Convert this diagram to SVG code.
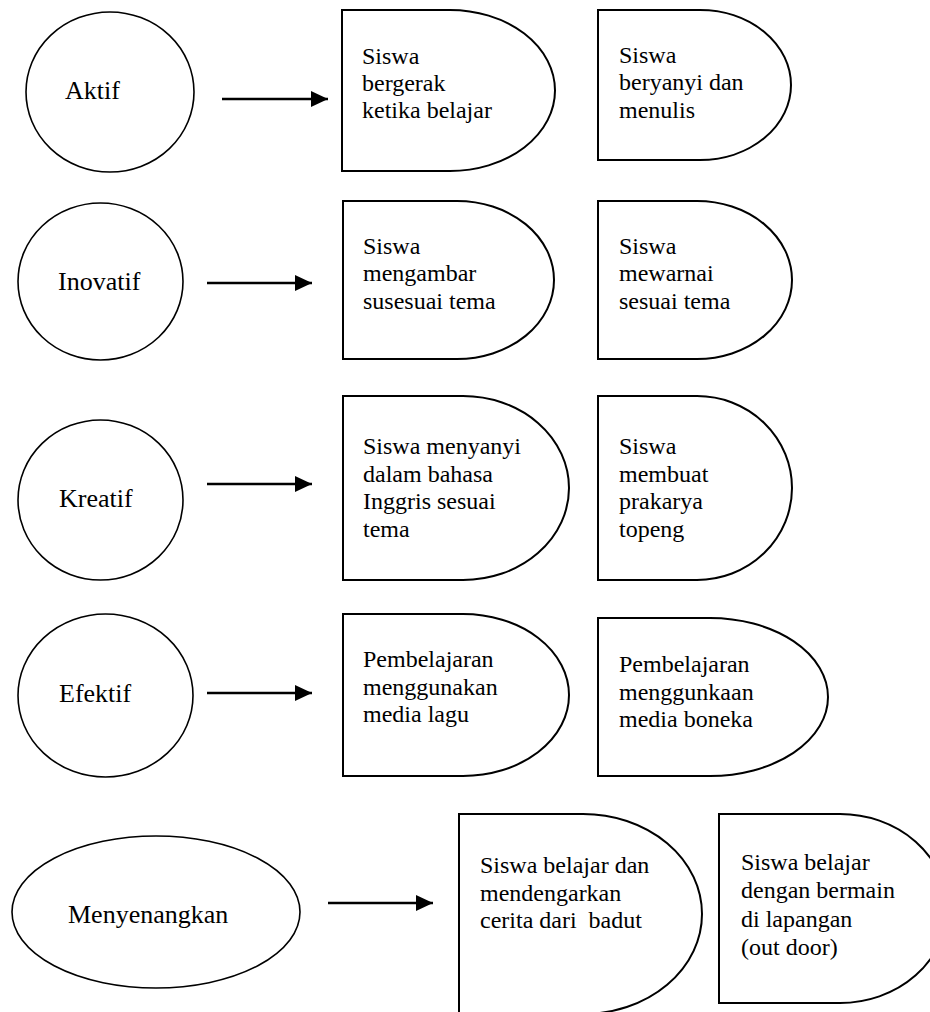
<svg xmlns="http://www.w3.org/2000/svg" width="930" height="1012" viewBox="0 0 930 1012">
  <style>
    .bg { fill: #ffffff; }
    .oval { fill: #ffffff; stroke: #000000; stroke-width: 1.6; }
    .box { fill: #ffffff; stroke: #000000; stroke-width: 2; stroke-linejoin: miter; }
    .lbl { font-family: "Liberation Serif", "Times New Roman", serif; font-size: 26px; fill: #000000; }
    .txt { font-family: "Liberation Serif", "Times New Roman", serif; font-size: 24px; fill: #000000; white-space: pre; }
    .arrow { stroke: #000000; stroke-width: 2.5; fill: none; marker-end: url(#ah); }
  </style>
  <defs>
    <marker id="ah" markerWidth="17" markerHeight="16" refX="17" refY="8" orient="auto" markerUnits="userSpaceOnUse">
      <path d="M0,0 L17,8 L0,16 Z" fill="#000000"/>
    </marker>
  </defs>
  <rect class="bg" x="0" y="0" width="930" height="1012"/>

  <g id="connectors">
    <line class="arrow" x1="222" y1="99" x2="328" y2="99"/>
    <line class="arrow" x1="207" y1="283" x2="312" y2="283"/>
    <line class="arrow" x1="207" y1="484" x2="312" y2="484"/>
    <line class="arrow" x1="207" y1="693" x2="312" y2="693"/>
    <line class="arrow" x1="328" y1="903" x2="433" y2="903"/>
  </g>

  <g id="aktif">
    <ellipse class="oval" cx="110" cy="92" rx="84" ry="80"/>
    <text class="lbl" x="65" y="99">Aktif</text>
  </g>
  <g id="aktif-1">
    <path class="box" d="M342,10 H450 A105,80.5 0 0 1 450,171 H342 Z"/>
    <text class="txt" x="362" y="64">Siswa</text>
    <text class="txt" x="362" y="91">bergerak</text>
    <text class="txt" x="362" y="118">ketika belajar</text>
  </g>
  <g id="aktif-2">
    <path class="box" d="M598,10 H700 A91,75 0 0 1 700,160 H598 Z"/>
    <text class="txt" x="619" y="63">Siswa</text>
    <text class="txt" x="619" y="90">beryanyi dan</text>
    <text class="txt" x="619" y="118">menulis</text>
  </g>

  <g id="inovatif">
    <ellipse class="oval" cx="100.5" cy="281.5" rx="82.5" ry="78.5"/>
    <text class="lbl" x="58" y="290">Inovatif</text>
  </g>
  <g id="inovatif-1">
    <path class="box" d="M343,201 H457 A97,79 0 0 1 457,359 H343 Z"/>
    <text class="txt" x="363" y="254">Siswa</text>
    <text class="txt" x="363" y="281">mengambar</text>
    <text class="txt" x="363" y="309">susesuai tema</text>
  </g>
  <g id="inovatif-2">
    <path class="box" d="M598,201 H697 A95,79 0 0 1 697,359 H598 Z"/>
    <text class="txt" x="619" y="254">Siswa</text>
    <text class="txt" x="619" y="281">mewarnai</text>
    <text class="txt" x="619" y="309">sesuai tema</text>
  </g>

  <g id="kreatif">
    <ellipse class="oval" cx="100.5" cy="500" rx="82.5" ry="80"/>
    <text class="lbl" x="59" y="507">Kreatif</text>
  </g>
  <g id="kreatif-1">
    <path class="box" d="M343,396 H463 A106,92 0 0 1 463,580 H343 Z"/>
    <text class="txt" x="363" y="454">Siswa menyanyi</text>
    <text class="txt" x="363" y="482">dalam bahasa</text>
    <text class="txt" x="363" y="509">Inggris sesuai</text>
    <text class="txt" x="363" y="537">tema</text>
  </g>
  <g id="kreatif-2">
    <path class="box" d="M598,396 H697 A95,92 0 0 1 697,580 H598 Z"/>
    <text class="txt" x="619" y="454">Siswa</text>
    <text class="txt" x="619" y="482">membuat</text>
    <text class="txt" x="619" y="509">prakarya</text>
    <text class="txt" x="619" y="537">topeng</text>
  </g>

  <g id="efektif">
    <ellipse class="oval" cx="105.5" cy="695.5" rx="87.5" ry="81.5"/>
    <text class="lbl" x="59" y="702">Efektif</text>
  </g>
  <g id="efektif-1">
    <path class="box" d="M343,614 H463 A106,81 0 0 1 463,776 H343 Z"/>
    <text class="txt" x="363" y="667">Pembelajaran</text>
    <text class="txt" x="363" y="695">menggunakan</text>
    <text class="txt" x="363" y="722">media lagu</text>
  </g>
  <g id="efektif-2">
    <path class="box" d="M598,618 H710 A118,79 0 0 1 710,776 H598 Z"/>
    <text class="txt" x="619" y="672">Pembelajaran</text>
    <text class="txt" x="619" y="700">menggunkaan</text>
    <text class="txt" x="619" y="727">media boneka</text>
  </g>

  <g id="menyenangkan">
    <ellipse class="oval" cx="156" cy="912" rx="144" ry="76"/>
    <text class="lbl" x="68" y="923">Menyenangkan</text>
  </g>
  <g id="menyenangkan-1">
    <path class="box" d="M459,814 H583 A119,100 0 0 1 583,1014 H459 Z"/>
    <text class="txt" x="480" y="873">Siswa belajar dan</text>
    <text class="txt" x="480" y="901">mendengarkan</text>
    <text class="txt" x="480" y="928">cerita dari  badut</text>
  </g>
  <g id="menyenangkan-2">
    <path class="box" d="M719,814 H840 A107,94.5 0 0 1 840,1003 H719 Z"/>
    <text class="txt" x="741" y="870">Siswa belajar</text>
    <text class="txt" x="741" y="898">dengan bermain</text>
    <text class="txt" x="741" y="927">di lapangan</text>
    <text class="txt" x="741" y="955">(out door)</text>
  </g>
</svg>
